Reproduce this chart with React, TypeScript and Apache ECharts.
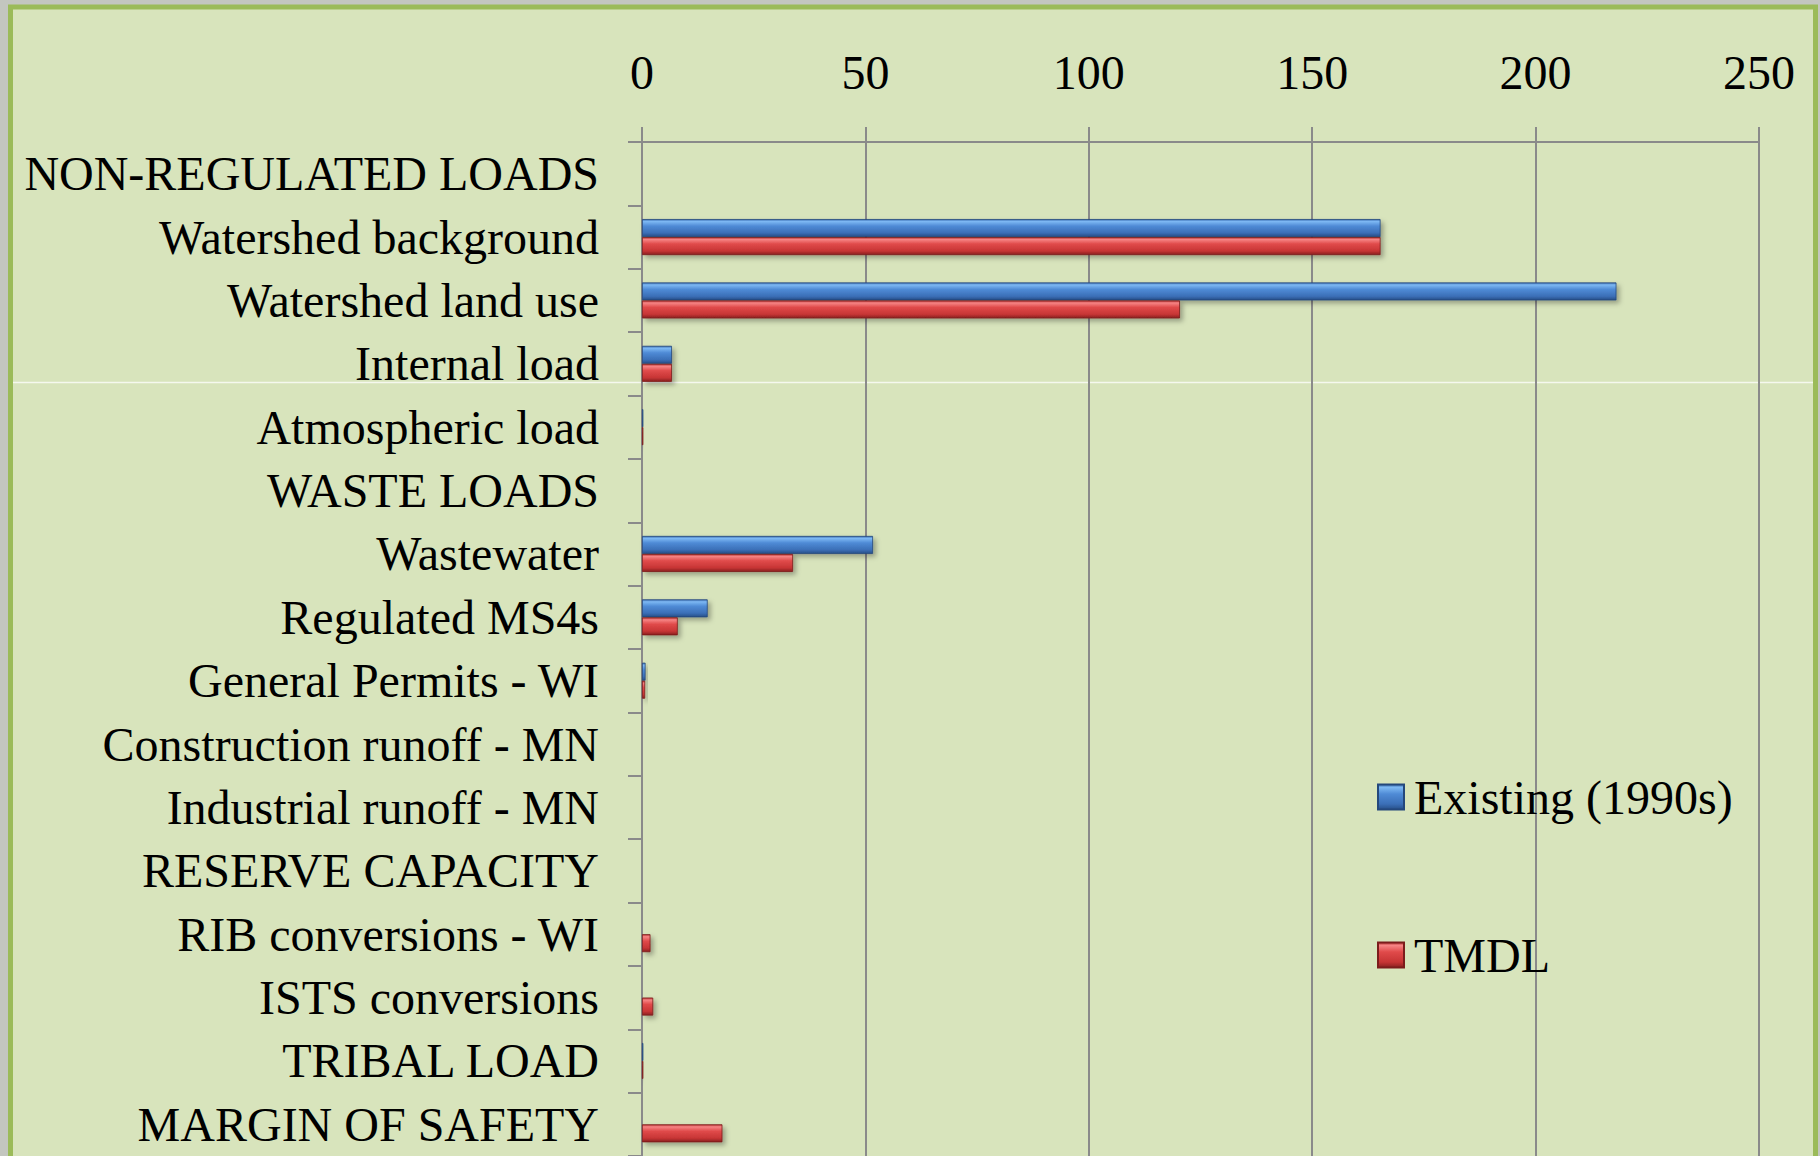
import React, { useEffect, useRef } from "react";
import * as echarts from "echarts";

const categories = [
  "NON-REGULATED LOADS",
  "Watershed background",
  "Watershed land use",
  "Internal load",
  "Atmospheric load",
  "WASTE LOADS",
  "Wastewater",
  "Regulated MS4s",
  "General Permits - WI",
  "Construction runoff - MN",
  "Industrial runoff - MN",
  "RESERVE CAPACITY",
  "RIB conversions - WI",
  "ISTS conversions",
  "TRIBAL LOAD",
  "MARGIN OF SAFETY",
];

const existingValues = [null, 165.3, 218.1, 6.7, 0.3, null, 51.7, 14.7, 0.8, null, null, null, null, null, 0.3, null];
const tmdlValues = [null, 165.3, 120.4, 6.7, 0.3, null, 33.8, 8.0, 0.7, null, null, null, 1.9, 2.5, 0.3, 18.0];

const seriesNames = ["Existing (1990s)", "TMDL"];
const xMin = 0;
const xMax = 250;
const xInterval = 50;

const FONT = "'Liberation Serif', 'Times New Roman', serif";

const blueGrad = () =>
  new echarts.graphic.LinearGradient(0, 0, 0, 1, [
    { offset: 0, color: "#3d70b4" },
    { offset: 0.12, color: "#7db8f3" },
    { offset: 0.38, color: "#4f8bd6" },
    { offset: 0.78, color: "#3b6fb7" },
    { offset: 1, color: "#274f88" },
  ]);
const redGrad = () =>
  new echarts.graphic.LinearGradient(0, 0, 0, 1, [
    { offset: 0, color: "#b83434" },
    { offset: 0.12, color: "#f68484" },
    { offset: 0.38, color: "#e04a4a" },
    { offset: 0.78, color: "#c73535" },
    { offset: 1, color: "#8a2020" },
  ]);

export default function App() {
  const ref = useRef<HTMLDivElement>(null);
  useEffect(() => {
    if (!ref.current) return;
    const chart = echarts.init(ref.current, null, { renderer: "svg" });
    const shadow = {
      shadowColor: "rgba(0,0,0,0.3)",
      shadowBlur: 5,
      shadowOffsetX: 3,
      shadowOffsetY: 3,
    };
    chart.setOption({
      animation: false,
      backgroundColor: "#c3c6bf",
      graphic: [
        {
          type: "rect",
          z: -10,
          silent: true,
          shape: { x: 10.5, y: 7, width: 1805, height: 1170 },
          style: { fill: "#d8e4bc", stroke: "#9bbb59", lineWidth: 5 },
        },
        {
          type: "line",
          z: -9,
          silent: true,
          shape: { x1: 13, y1: 382.5, x2: 1813, y2: 382.5 },
          style: { stroke: "rgba(255,255,255,0.75)", lineWidth: 1.5 },
        },
      ],
      grid: { left: 642, top: 142, width: 1117, height: 1017, containLabel: false },
      legend: {
        data: seriesNames,
        orient: "vertical",
        left: 1377,
        top: 773,
        padding: 0,
        itemWidth: 26,
        itemHeight: 25,
        itemGap: 110,
        icon: "rect",
        textStyle: { fontSize: 48, fontFamily: FONT, color: "#000", padding: [0, 0, 0, 5] },
      },
      xAxis: {
        type: "value",
        position: "top",
        min: xMin,
        max: xMax,
        interval: xInterval,
        axisLine: { show: true, lineStyle: { color: "#8a8a8a", width: 2 } },
        axisTick: { show: true, length: 15, lineStyle: { color: "#8a8a8a", width: 2 } },
        splitLine: { show: true, lineStyle: { color: "#8a8a8a", width: 2 } },
        axisLabel: { fontSize: 48, fontFamily: FONT, color: "#000", margin: 46 },
      },
      yAxis: {
        type: "category",
        inverse: true,
        data: categories,
        axisLine: { show: true, lineStyle: { color: "#8a8a8a", width: 2 } },
        axisTick: { show: true, length: 14, lineStyle: { color: "#8a8a8a", width: 2 } },
        axisLabel: { fontSize: 48, fontFamily: FONT, color: "#000", margin: 43 },
      },
      series: [
        {
          name: seriesNames[0],
          type: "bar",
          data: existingValues,
          barWidth: 18,
          barGap: "0%",
          itemStyle: { color: blueGrad(), borderColor: "#24487c", borderWidth: 0.8, ...shadow },
        },
        {
          name: seriesNames[1],
          type: "bar",
          data: tmdlValues,
          barWidth: 18,
          barGap: "0%",
          itemStyle: { color: redGrad(), borderColor: "#7c1c1c", borderWidth: 0.8, ...shadow },
        },
      ],
    });
    return () => chart.dispose();
  }, []);
  return (
    <div
      ref={ref}
      style={{ position: "absolute", left: 0, top: 0, width: 1820, height: 1156 }}
    />
  );
}
